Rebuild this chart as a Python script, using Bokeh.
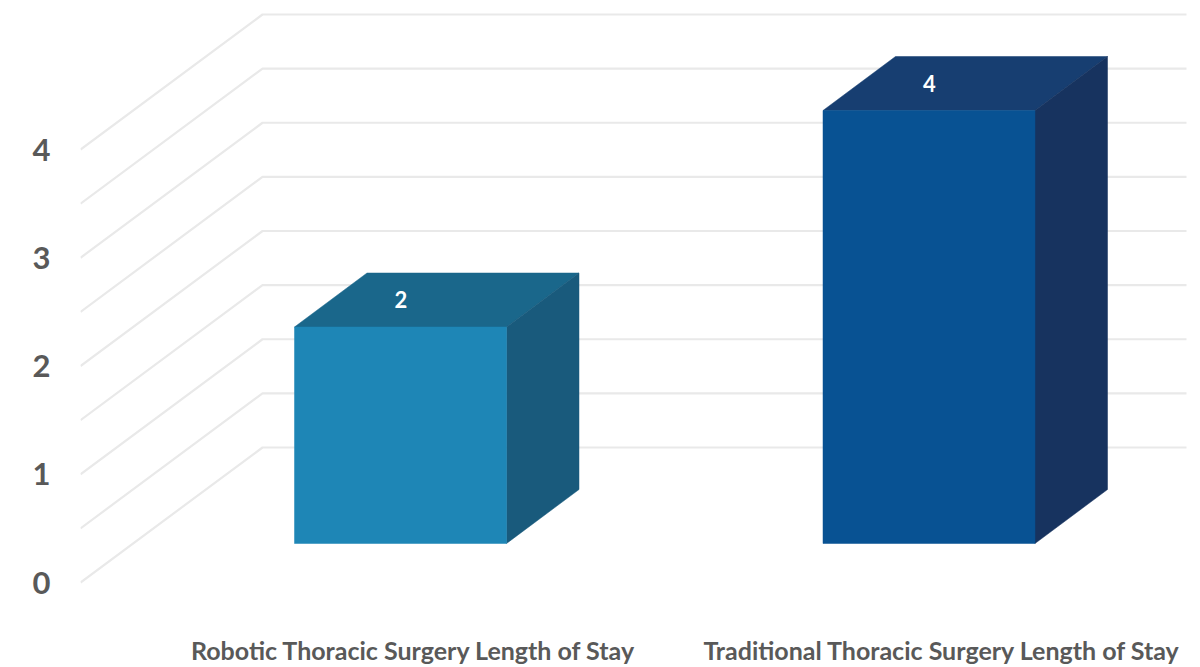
from bokeh.plotting import figure
from bokeh.models import FixedTicker, Range1d
from bokeh.core.properties import value
from bokeh.embed import file_html
from bokeh.resources import INLINE

categories = ["Robotic Thoracic Surgery Length of Stay", "Traditional Thoracic Surgery Length of Stay"]
values = [2, 4]
y_ticks = [0, 1, 2, 3, 4]
grid_levels = [0, 0.5, 1, 1.5, 2, 2.5, 3, 3.5, 4]
front_colors = ["#1e86b6", "#085293"]
top_colors = ["#1a678b", "#173e71"]
side_colors = ["#195a7c", "#17335f"]
GRID = "#e9e9e9"
TEXT = "#595959"
FONT = "Lato"

# pixel scale of the page: 528.5 px per category, 108.25 px per unit
SX, SY = 528.5, 108.25
X0, Y0 = 413.0, 582.0
L, R, T, B = 80, 1200, 0, 614
W_DX, W_DY = 182 / SX, 135 / SY      # side wall depth
WALL_L, WALL_R = (80 - X0) / SX, (1186 - X0) / SX
BAR_C, BAR_HW = -13 / SX, 106 / SX   # bar centre shift and half width
BAR_BASE = 39 / SY                   # bar floor above axis zero
D_DX, D_DY = 72.5 / SX, 54 / SY      # bar depth

p = figure(width=1200, height=667, output_backend="svg", toolbar_location=None,
           x_range=Range1d((L - X0) / SX, (R - X0) / SX),
           y_range=Range1d((Y0 - B) / SY, (Y0 - T) / SY),
           min_border_left=80, min_border_right=0, min_border_top=0, min_border_bottom=53,
           outline_line_color=None, background_fill_color="white", border_fill_color="white")
p.grid.visible = False

# walls
xs = [[WALL_L, WALL_L + W_DX, WALL_R] for _ in grid_levels]
ys = [[g, g + W_DY, g + W_DY] for g in grid_levels]
p.multi_line(xs, ys, line_color=GRID, line_width=2.2)

# bars
for i, v in enumerate(values):
    l = i + BAR_C - BAR_HW
    r = i + BAR_C + BAR_HW
    b = BAR_BASE
    t = BAR_BASE + v
    p.patch([l, r, r + D_DX, l + D_DX], [t, t, t + D_DY, t + D_DY], fill_color=top_colors[i], line_color=top_colors[i], line_width=0.5)
    p.patch([r, r + D_DX, r + D_DX, r], [b, b + D_DY, t + D_DY, t], fill_color=side_colors[i], line_color=side_colors[i], line_width=0.5)
    p.quad(left=[l], right=[r], bottom=[b], top=[t], fill_color=front_colors[i], line_color=front_colors[i], line_width=0.5)
    p.text([i + BAR_C + 0.5 / SX], [t + D_DY / 2 + 0.5 / SY], text=[str(v)], text_color="white",
           text_font=value(FONT), text_font_style="bold", text_font_size="22px",
           text_align="center", text_baseline="middle")

p.yaxis.ticker = FixedTicker(ticks=y_ticks)
p.yaxis.axis_line_color = None
p.yaxis.major_tick_line_color = None
p.yaxis.minor_tick_line_color = None
p.yaxis.major_tick_out = 0
p.yaxis.major_label_standoff = 30
p.yaxis.major_label_text_font = FONT
p.yaxis.major_label_text_font_style = "bold"
p.yaxis.major_label_text_font_size = "31px"
p.yaxis.major_label_text_color = TEXT

p.xaxis.ticker = FixedTicker(ticks=list(range(len(categories))))
p.xaxis.major_label_overrides = {i: c for i, c in enumerate(categories)}
p.xaxis.axis_line_color = None
p.xaxis.major_tick_line_color = None
p.xaxis.minor_tick_line_color = None
p.xaxis.major_tick_out = 0
p.xaxis.major_label_standoff = 20
p.xaxis.major_label_text_font = FONT
p.xaxis.major_label_text_font_style = "bold"
p.xaxis.major_label_text_font_size = "25px"
p.xaxis.major_label_text_color = TEXT
p.xaxis.major_label_text_line_height = 1.0

open("out.html", "w").write(file_html(p, INLINE))
